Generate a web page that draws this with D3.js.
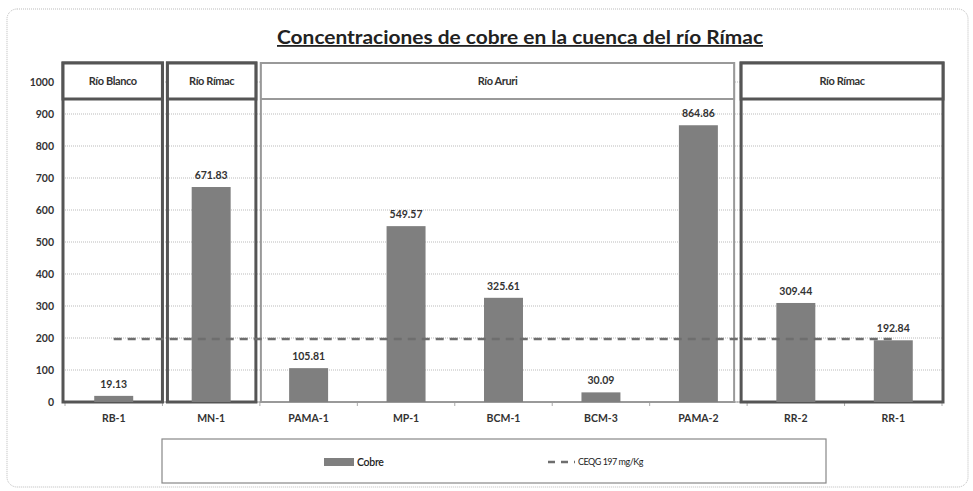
<!DOCTYPE html>
<html>
<head>
<meta charset="utf-8">
<title>Concentraciones de cobre</title>
<script src="https://d3js.org/d3.v7.min.js"></script>
<style>
body { margin: 0; background: #fff; }
svg { display: block; font-family: Lato, "Open Sans", sans-serif; }
.grid line { stroke: #bbb; stroke-dasharray: 1,1; }
.lbl { font-weight: 700; fill: #333; }
</style>
</head>
<body>
<svg width="973" height="491"></svg>
<script>

// data
var categories = ["RB-1", "MN-1", "PAMA-1", "MP-1", "BCM-1", "BCM-3", "PAMA-2", "RR-2", "RR-1"];
var cobre = [19.13, 671.83, 105.81, 549.57, 325.61, 30.09, 864.86, 309.44, 192.84];
var ceqg = [197, 197, 197, 197, 197, 197, 197, 197, 197];
var yTicks = [0, 100, 200, 300, 400, 500, 600, 700, 800, 900, 1000];
var groupNames = ["Río Blanco", "Río Rímac", "Río Aruri", "Río Rímac"];
var groupFirst = [0, 1, 2, 7];
var groupLast = [0, 1, 6, 8];

// layout tweaks for the hand drawn river boxes
var boxInL = [-2, 5, 1, -6],
    boxInR = [0, -4, -13, 1],
    boxStyle = [["#555", 3], ["#555", 3], ["#999", 2], ["#555", 3]];

var svg = d3.select("svg"),
    margin = {left: 65, right: 31, top: 82, bottom: 89},
    width = 973 - margin.left - margin.right,
    height = 491 - margin.top - margin.bottom;

var x = d3.scaleBand().domain(categories).range([0, width]).padding(0),
    y = d3.scaleLinear().domain([0, 1000]).range([height, 0]);

var barW = x.bandwidth() * 0.4;

// outer frame
svg.append("rect")
    .attr("x", 7).attr("y", 9).attr("width", 961).attr("height", 478)
    .attr("rx", 10)
    .attr("fill", "none").attr("stroke", "#bbb").attr("stroke-dasharray", "1,1");

// title
svg.append("text")
    .attr("x", 520).attr("y", 44)
    .attr("text-anchor", "middle")
    .attr("font-size", 18).attr("font-weight", 700)
    .attr("fill", "#222")
    .attr("text-decoration", "underline")
    .attr("textLength", 486).attr("lengthAdjust", "spacingAndGlyphs")
    .text("Concentraciones de cobre en la cuenca del río Rímac");

var g = svg.append("g")
    .attr("transform", "translate(" + margin.left + "," + margin.top + ")");

// grid
g.append("g").attr("class", "grid")
  .selectAll("line").data(yTicks).enter().append("line")
    .attr("x1", -2).attr("x2", width + 1)
    .attr("y1", function(d) { return y(d); })
    .attr("y2", function(d) { return y(d); });

// y labels
g.append("g")
  .selectAll("text").data(yTicks).enter().append("text")
    .attr("class", "lbl")
    .attr("x", -11).attr("y", function(d) { return y(d); })
    .attr("dy", "0.35em")
    .attr("text-anchor", "end")
    .attr("font-size", 10.5)
    .text(function(d) { return d; });

// x axis
var xa = g.append("g")
    .attr("transform", "translate(0," + height + ")");
xa.append("line").attr("x1", 0).attr("x2", width).attr("stroke", "#999");
xa.selectAll(".tk").data(d3.range(categories.length + 1)).enter().append("line")
    .attr("x1", function(i) { return i * x.step(); })
    .attr("x2", function(i) { return i * x.step(); })
    .attr("y1", 0).attr("y2", 4)
    .attr("stroke", "#aaa");
xa.selectAll("text").data(categories).enter().append("text")
    .attr("class", "lbl")
    .attr("x", function(d) { return x(d) + x.bandwidth() / 2; })
    .attr("y", 20)
    .attr("text-anchor", "middle")
    .attr("font-size", 10.5)
    .text(function(d) { return d; });

// group boxes
var boxTop = -19, headH = 36;
groupNames.forEach(function(name, i) {
  var x0 = x(categories[groupFirst[i]]) + boxInL[i],
      x1 = x(categories[groupLast[i]]) + x.bandwidth() + boxInR[i];
  g.append("rect")
      .attr("x", x0).attr("y", boxTop)
      .attr("width", x1 - x0).attr("height", height - boxTop)
      .attr("fill", "none")
      .attr("stroke", boxStyle[i][0]).attr("stroke-width", boxStyle[i][1]);
  g.append("rect")
      .attr("x", x0).attr("y", boxTop)
      .attr("width", x1 - x0).attr("height", headH)
      .attr("fill", "#fff")
      .attr("stroke", boxStyle[i][0]).attr("stroke-width", boxStyle[i][1]);
  g.append("text")
      .attr("class", "lbl")
      .attr("x", (x0 + x1) / 2).attr("y", boxTop + headH / 2)
      .attr("dy", "0.35em")
      .attr("text-anchor", "middle")
      .attr("font-size", 11)
      .attr("letter-spacing", -0.4)
      .text(name);
});

// bars
g.selectAll(".bar").data(cobre).enter().append("rect")
    .attr("class", "bar")
    .attr("x", function(d, i) { return x(categories[i]) + (x.bandwidth() - barW) / 2; })
    .attr("y", function(d) { return y(d); })
    .attr("width", barW)
    .attr("height", function(d) { return height - y(d); })
    .attr("fill", "#7f7f7f");

g.selectAll(".val").data(cobre).enter().append("text")
    .attr("class", "lbl")
    .attr("x", function(d, i) { return x(categories[i]) + x.bandwidth() / 2; })
    .attr("y", function(d) { return y(d) - 8; })
    .attr("text-anchor", "middle")
    .attr("font-size", 10.5)
    .text(function(d) { return d.toFixed(2); });

// CEQG line
var line = d3.line()
    .x(function(d, i) { return x(categories[i]) + x.bandwidth() / 2; })
    .y(function(d) { return y(d); });
g.append("path")
    .datum(ceqg)
    .attr("d", line)
    .attr("fill", "none")
    .attr("stroke", "#6e6e6e")
    .attr("stroke-width", 2.5)
    .attr("stroke-dasharray", "8,6");

// legend
var lg = svg.append("g");
lg.append("rect")
    .attr("x", 162).attr("y", 439).attr("width", 664).attr("height", 44)
    .attr("fill", "#fff").attr("stroke", "#888").attr("stroke-width", 1.2);
lg.append("rect")
    .attr("x", 324).attr("y", 458).attr("width", 30).attr("height", 8)
    .attr("fill", "#7f7f7f");
lg.append("text")
    .attr("x", 357).attr("y", 462).attr("dy", "0.35em")
    .attr("font-size", 10.5).attr("font-weight", 600).attr("fill", "#222").attr("letter-spacing", -0.3)
    .text("Cobre");
lg.append("line")
    .attr("x1", 548).attr("x2", 575).attr("y1", 462).attr("y2", 462)
    .attr("stroke", "#6e6e6e").attr("stroke-width", 2.5)
    .attr("stroke-dasharray", "7,6");
lg.append("text")
    .attr("x", 578).attr("y", 462).attr("dy", "0.35em")
    .attr("font-size", 9).attr("fill", "#222").attr("letter-spacing", -0.5)
    .text("CEQG 197 mg/Kg");

</script>
</body>
</html>
